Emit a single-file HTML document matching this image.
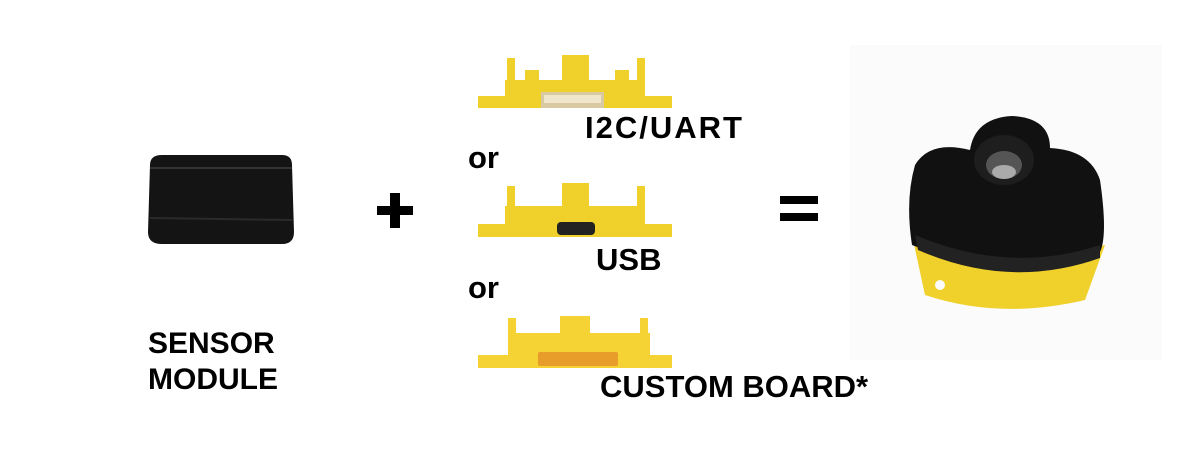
<!DOCTYPE html>
<html><head><meta charset="utf-8"><style>
html,body{margin:0;padding:0;background:#fff;}
#c{position:relative;width:1200px;height:463px;overflow:hidden;background:#fff;font-family:"Liberation Sans",sans-serif;font-weight:bold;color:#000;}
.t{position:absolute;white-space:nowrap;line-height:1;}
svg{position:absolute;left:0;top:0;}
</style></head><body><div id="c">
<svg width="1200" height="463" viewBox="0 0 1200 463">
<rect x="850" y="45" width="312" height="315" fill="#fbfbfb"/>
<path d="M150 165 Q150 155 162 155 L282 155 Q292 155 292 165 L294 232 Q294 244 282 244 L162 244 Q148 244 148 232 Z" fill="#141414"/>
<path d="M150 168 L292 168" stroke="#333" stroke-width="2"/>
<path d="M150 218 L292 220" stroke="#2a2a2a" stroke-width="2"/>
<rect x="377" y="206" width="36" height="9" fill="#000"/>
<rect x="390" y="193" width="10" height="35" fill="#000"/>
<rect x="780" y="196" width="38" height="8" fill="#000"/>
<rect x="780" y="213" width="38" height="8" fill="#000"/>
<g fill="#f0d02a">
<rect x="478" y="96" width="194" height="12"/><rect x="505" y="80" width="140" height="22"/>
<rect x="562" y="55" width="27" height="28"/><rect x="507" y="58" width="8" height="25"/><rect x="637" y="58" width="8" height="25"/>
<rect x="525" y="70" width="14" height="12"/><rect x="615" y="70" width="14" height="12"/>
</g>
<rect x="541" y="92" width="63" height="16" fill="#d8c9a0"/><rect x="544" y="95" width="57" height="8" fill="#efe6cc"/>
<g fill="#f0d02a">
<rect x="478" y="224" width="194" height="13"/><rect x="505" y="206" width="140" height="22"/>
<rect x="562" y="183" width="27" height="27"/><rect x="507" y="186" width="8" height="24"/><rect x="637" y="186" width="8" height="24"/>
</g>
<rect x="557" y="222" width="38" height="13" rx="4" fill="#222"/>
<g fill="#f5d335">
<rect x="478" y="355" width="194" height="13"/><rect x="508" y="333" width="142" height="26"/>
<rect x="560" y="316" width="30" height="20"/><rect x="508" y="318" width="8" height="20"/><rect x="640" y="318" width="8" height="20"/>
</g>
<rect x="538" y="352" width="80" height="14" rx="2" fill="#e89c2a"/>
<path d="M912 235 L925 295 Q1000 320 1085 300 L1105 245 Q1010 268 912 235 Z" fill="#f0d02a"/>
<circle cx="940" cy="285" r="14" fill="#f0d02a"/><circle cx="940" cy="285" r="5" fill="#fbfbfb"/>
<path d="M915 165 Q930 140 970 150 Q975 118 1012 116 Q1050 118 1050 148 Q1090 150 1100 180 Q1108 235 1100 252 Q1010 285 912 245 Q905 200 915 165 Z" fill="#111"/>
<path d="M915 235 Q1010 275 1100 245 L1100 258 Q1010 290 918 250 Z" fill="#222"/>
<ellipse cx="1004" cy="160" rx="30" ry="25" fill="#1e1e1e"/>
<ellipse cx="1004" cy="165" rx="18" ry="14" fill="#555"/>
<ellipse cx="1004" cy="172" rx="12" ry="7" fill="#aaa"/>
</svg>
<div class="t" style="left:585px;top:112px;font-size:31px;letter-spacing:2px;">I2C/UART</div>
<div class="t" style="left:468px;top:142px;font-size:31px;">or</div>
<div class="t" style="left:596px;top:244px;font-size:31px;">USB</div>
<div class="t" style="left:468px;top:272px;font-size:31px;">or</div>
<div class="t" style="left:600px;top:371px;font-size:31px;">CUSTOM BOARD*</div>
<div class="t" style="left:148px;top:326px;font-size:30px;line-height:36px;">SENSOR<br>MODULE</div>
</div></body></html>
